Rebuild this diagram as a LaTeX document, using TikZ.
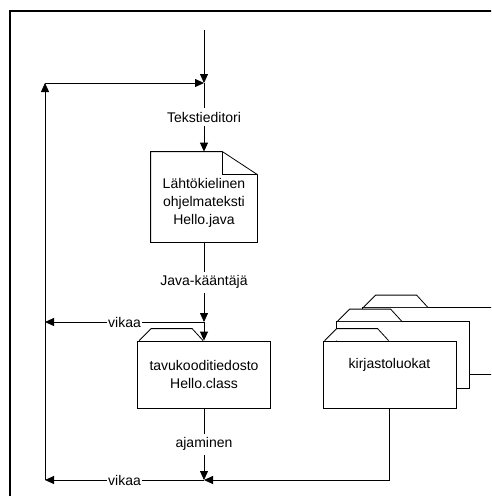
\documentclass[tikz,border=0pt]{standalone}
\usepackage{fontspec}
\setmainfont{Liberation Sans}
\usetikzlibrary{calc,arrows.meta}

\tikzset{
	arr/.style={-{Triangle[length=9pt,width=8pt]}},
	lbl/.style={fill=white,inner xsep=1pt,inner ysep=4pt},
	docbox/.style={minimum width=106pt,minimum height=90pt,inner sep=0pt},
	folder/.style={draw,fill=white,minimum width=133pt,minimum height=67pt,inner sep=0pt,align=center}
}
% tab on top of a folder
\newcommand{\foldertab}[1]{
	\draw[fill=white] ($(#1.north west)+(2,0)$) -- ++(12,-12) -- ++(41,0) -- ++(11,12);
}

\begin{document}
\begin{tikzpicture}[x=1pt,y=-1pt,line width=0.8pt,font=\fontsize{14}{18}\selectfont]
		\def \mx {204}
		\def \lx {45}
		
		\clip (0,0) rectangle (491,496);
		
		%outer frame
		\draw[line width=2pt] (10,11) rectangle (600,600);
		
		%points of the loop
		\coordinate (top) at (\mx,30);
		\coordinate (j1) at (\mx,83);
		\coordinate (j2) at (\mx,322);
		\coordinate (j3) at (\mx,480);
		\coordinate (lt) at (\lx,83);
		\coordinate (lb) at (\lx,480);
		
		%source file
		\node[docbox] (src) at (\mx,197) {};
		\draw (src.north west) -- ($(src.north east)+(-35,0)$) coordinate (fold) -- ($(src.north east)+(0,23)$) -- (src.south east) -- (src.south west) -- cycle;
		\draw (fold) -- ++(0,23) -- ($(src.north east)+(0,23)$);
		\node[align=center] (srctxt) at ($(src.center)+(0,6)$) {Lähtökielinen\\ohjelmateksti\\Hello.java};
		
		%class file
		\node[folder] (cls) at (\mx,374.5) {tavukooditiedosto\\Hello.class};
		\foldertab{cls}
		
		%library classes
		\node[folder] (kb) at (428.5,341) {};
		\foldertab{kb}
		\node[folder] (km) at (402.5,355) {};
		\foldertab{km}
		\node[folder] (kir) at (389.5,374.5) {};
		\foldertab{kir}
		\node (kirtxt) at ($(kir.north)+(0,24)$) {kirjastoluokat};
		
		%main flow
		\draw[arr] (top) -- (j1);
		\draw[arr] (j1) -- node[lbl] (ted) {Tekstieditori} (src.north);
		\draw[arr] (src.south) -- node[lbl] (jk) {Java-kääntäjä} (j2);
		\draw[arr] (j2) -- (cls.north);
		\draw[arr] (cls.south) -- node[lbl] (aj) {ajaminen} (j3);
		\draw[arr] (kir.south) |- (j3);
		
		%error loop
		\draw[arr] (j2) -- node[lbl] (v1) {vikaa} (\lx,322);
		\draw[arr] (j3) -- node[lbl] (v2) {vikaa} (lb);
		\draw[arr] (lb) -- (lt);
		\draw[arr] (lt) -- (j1);
\end{tikzpicture}
\end{document}
